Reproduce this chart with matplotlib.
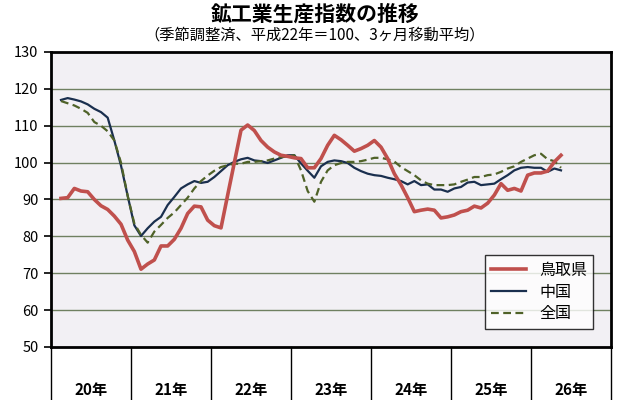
import matplotlib
matplotlib.use("Agg")
import matplotlib.pyplot as plt
import matplotlib.transforms as mtransforms
import numpy as np

plt.rcParams["font.family"] = ["Noto Sans CJK JP", "DejaVu Sans"]

# 3-month moving averages, monthly from H20 Feb (index 1) to H26 May
tottori = [90.3, 90.5, 93.0, 92.3, 92.1, 90.0, 88.3, 87.3, 85.5, 83.3, 79.0, 75.9,
           71.1, 72.5, 73.6, 77.4, 77.4, 79.2, 82.2, 86.2, 88.2, 88.0, 84.4, 82.9,
           82.3, 91.2, 100.0, 108.8, 110.2, 108.7, 106.0, 104.2, 102.9, 102.0, 101.7, 101.3,
           101.1, 98.6, 98.6, 101.1, 104.7, 107.4, 106.2, 104.7, 103.1, 103.8, 104.7, 106.0,
           104.2, 101.1, 97.0, 94.0, 90.5, 86.7, 87.1, 87.4, 87.1, 85.0, 85.3, 85.8,
           86.7, 87.1, 88.2, 87.7, 89.0, 91.2, 94.3, 92.5, 93.0, 92.3, 96.6, 97.2,
           97.2, 97.7, 100.2, 102.0]
chugoku = [117.0, 117.5, 117.1, 116.6, 115.8, 114.6, 113.7, 112.2, 106.0, 99.2, 91.0, 83.0,
           80.1, 82.2, 84.0, 85.3, 88.5, 90.7, 93.0, 94.1, 95.0, 94.5, 94.8, 96.1,
           97.7, 99.3, 100.2, 100.9, 101.3, 100.6, 100.4, 99.9, 100.6, 101.3, 102.0, 102.0,
           99.8, 97.8, 95.9, 99.0, 100.2, 100.6, 100.4, 99.9, 98.6, 97.7, 97.0, 96.6,
           96.4, 95.9, 95.5, 95.0, 94.1, 95.0, 93.9, 94.1, 92.7, 92.7, 92.1, 93.0,
           93.4, 94.6, 94.8, 93.9, 94.1, 94.3, 95.5, 96.6, 97.9, 98.6, 98.8, 98.6,
           98.6, 97.5, 98.4, 97.9]
zenkoku = [116.7, 116.1, 115.5, 114.6, 113.5, 111.0, 110.0, 108.5, 106.0, 100.0, 91.0, 83.5,
           80.4, 78.3, 81.3, 83.1, 85.0, 86.5, 88.5, 90.5, 93.0, 95.0, 96.5, 97.8,
           98.8, 99.3, 99.7, 99.7, 100.2, 100.2, 100.4, 100.6, 101.1, 101.5, 101.7, 102.0,
           97.9, 92.3, 89.4, 94.8, 97.9, 99.3, 99.9, 100.2, 100.2, 100.4, 100.8, 101.3,
           101.3, 100.9, 100.3, 98.8, 97.7, 96.6, 95.2, 94.3, 93.9, 93.9, 93.9, 94.1,
           94.8, 95.4, 96.1, 96.1, 96.6, 96.8, 97.5, 98.4, 99.0, 100.2, 101.1, 102.0,
           102.4, 100.9, 100.4, 98.6]
years = ["20年", "21年", "22年", "23年", "24年", "25年", "26年"]
start_month = 1

x = np.arange(start_month, start_month + len(tottori))

fig = plt.figure(figsize=(6.3, 4.0), dpi=100)
ax = fig.add_axes([51 / 630, 53 / 400, 560 / 630, 295 / 400])
ax.set_facecolor("#f2f0f4")

for v in range(60, 130, 10):
    ax.axhline(v, color="#6f8060", lw=1.0, zorder=1)

ax.plot(x, tottori, color="#c0504d", lw=2.6, label="鳥取県", zorder=4)
ax.plot(x, chugoku, color="#1a2f4e", lw=1.6, label="中国", zorder=3)
ax.plot(x, zenkoku, color="#4f6228", lw=1.6, ls=(0, (3.5, 2)), label="全国", zorder=3)

ax.set_xlim(-0.5, 12 * len(years) - 0.5)
ax.set_ylim(50, 130)
ax.set_yticks(range(50, 131, 10))
ax.tick_params(axis="y", direction="out", length=5, width=1.2, labelsize=10.5, pad=4)
for s in ax.spines.values():
    s.set_linewidth(2.0)
    s.set_color("black")

# year category boxes under the plot
ax.set_xticks([12 * k + 5.5 for k in range(len(years))])
ax.set_xticklabels(years, fontsize=11, fontweight="bold")
ax.tick_params(axis="x", length=0, pad=25)
trans = mtransforms.blended_transform_factory(ax.transData, ax.transAxes)
for k in range(len(years) + 1):
    ax.plot([12 * k - 0.5] * 2, [0, -0.2], transform=trans, color="black",
            lw=1.0, clip_on=False)

leg = ax.legend(loc="lower right", bbox_to_anchor=(0.983, 0.035), fontsize=11.5,
                frameon=True, fancybox=False, edgecolor="black", handlelength=2.2,
                labelspacing=0.3, borderpad=0.4)
leg.get_frame().set_linewidth(1.0)

fig.text(0.5, 1 - 14 / 400, "鉱工業生産指数の推移", ha="center", va="center",
         fontsize=15, fontweight="bold")
fig.text(0.5, 1 - 35 / 400, "（季節調整済、平成22年＝100、3ヶ月移動平均）",
         ha="center", va="center", fontsize=11)

fig.savefig("out.png", dpi=100)
